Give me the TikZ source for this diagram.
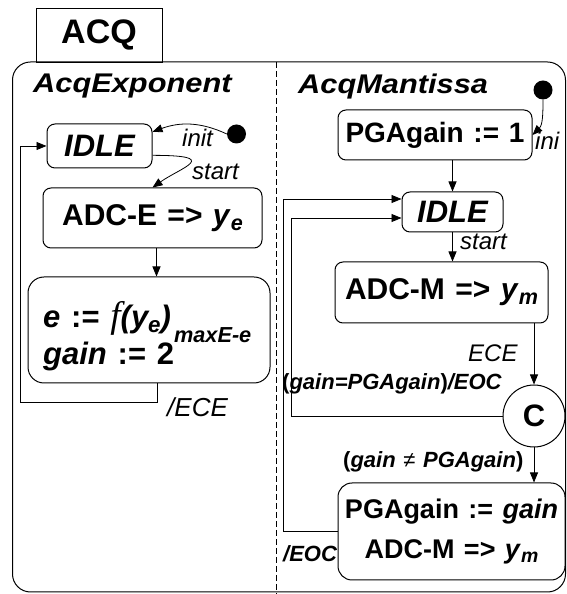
\documentclass[tikz,border=0pt]{standalone}
\usepackage{fontspec}
\usepackage{graphicx}
\setmainfont{Liberation Sans}[WordSpace=1.25]
\newfontfamily\serifit{Liberation Serif}
\usetikzlibrary{arrows.meta,calc}
% small helpers for indices and exponents set in text fonts
\newcommand\lsub[1]{\raisebox{-0.16em}{\scalebox{0.72}{#1}}}
\newcommand\lsup[1]{\raisebox{0.72em}{\scalebox{0.7}{#1}}}
\newcommand\fs[1]{\fontsize{#1}{#1}\selectfont}
\tikzset{
  state/.style={draw, line width=1pt, rounded corners=8pt, inner sep=0pt,
    font=\fs{30}\bfseries},
  lbl/.style={inner sep=0pt, anchor=base west, font=\fs{24}\itshape},
  blbl/.style={inner sep=0pt, anchor=base west, font=\fs{22}\bfseries},
  title/.style={inner sep=0pt, anchor=base west, font=\fs{27}\bfseries\itshape},
  arr/.style={-{Triangle[length=10pt,width=8pt]}, line width=0.8pt},
  dot/.style={circle, fill, minimum size=19pt, inner sep=0pt},
}
\begin{document}
\begin{tikzpicture}[x=1pt,y=1pt]
\useasboundingbox (0,0) rectangle (566,594);

% enclosing state and its name tab
\draw[line width=1pt, rounded corners=18pt] (12.5,532) rectangle (565.5,2);
\node[draw, line width=0.9pt, minimum width=126pt, minimum height=54pt,
  inner sep=0pt, font=\fs{34}\bfseries] (acq) at (99,559) {ACQ};
\draw[line width=0.8pt, dash pattern=on 6pt off 3pt] (276,532) -- (276,0);

% ---------------- exponent region ----------------
\node[title] (texp) at (33,501) {\scalebox{1.14}[1]{AcqExponent}};
\node[state, minimum width=105pt, minimum height=44pt,
  font=\fs{31}\bfseries\itshape] (eidle) at (99.5,448) {IDLE};
\node[dot] (edot) at (236.5,460) {};
\node[state, minimum width=219pt, minimum height=60pt] (adce) at (152.5,376)
  {ADC-E => \textit{y}\lsub{\textit{e}}};
\node[state, rounded corners=16pt, minimum width=242pt, minimum height=106pt]
  (ecalc) at (149,264) {};
\node[anchor=base west, inner sep=0pt, font=\fs{31}\bfseries] (ecalcA)
  at (43,266)
  {\textit{e} := {\serifit\itshape\mdseries\fs{37}f}\textit{(y\lsub{e})}};
\node[anchor=base west, inner sep=0pt, font=\fs{31}\bfseries] (ecalcB)
  at (43,229)
  {\textit{gain} := 2\lsup{\textit{maxE-e}}};
\coordinate (eloop) at (20,192);

\draw[arr] (edot.west) to[out=155, in=20] (eidle.15);
\node[lbl] (linit) at (182,447) {init};
\draw[arr] (eidle.-10) to[out=0, in=35, out distance=70pt, in distance=35pt]
  (adce.north);
\node[lbl] (lstart) at (192,414) {start};
\draw[arr] ([xshift=4pt]adce.south) -- ([xshift=4pt]adce.south |- ecalc.north);
\draw[arr] ([xshift=8pt]ecalc.south) |- (eloop) |- (eidle.west);
\node[lbl, font=\fs{26}\itshape] (lece) at (167,177) {/ECE};

% ---------------- mantissa region ----------------
\node[title] (tman) at (298,500) {\scalebox{1.14}[1]{AcqMantissa}};
\node[dot] (rdot) at (543,504) {};
\node[state, minimum width=194pt, minimum height=50pt, font=\fs{28}\bfseries]
  (pga1) at (435,459) {PGAgain := 1};
\node[state, minimum width=101pt, minimum height=40pt,
  font=\fs{31}\bfseries\itshape] (ridle) at (452.5,382) {IDLE};
\node[state, minimum width=213pt, minimum height=61pt] (adcm) at (441.5,301.5)
  {ADC-M => \textit{y}\lsub{\textit{m}}};
\node[draw, circle, line width=1pt, minimum size=62pt, inner sep=0pt,
  font=\fs{31}\bfseries] (cj) at (534,178) {C};
\node[state, rounded corners=14pt, minimum width=227pt, minimum height=97pt,
  align=center, font=\fs{27}\bfseries] (pgaset) at (451.5,62.5)
  {PGAgain := \textit{gain}\\[13pt]ADC-M => \textit{y}\lsub{\textit{m}}};
\coordinate (inner) at (291,178);
\coordinate (outer) at (283,62.5);

\draw[arr] (rdot.south) to[out=-90, in=45] (pga1.east);
\node[lbl] (lini) at (535,444) {ini};
\draw[arr] (ridle.north |- pga1.south) -- (ridle.north);
\draw[arr] (ridle.south) -- (ridle.south |- adcm.north);
\node[lbl] (lstart2) at (460,344) {start};
\draw[arr] (cj.north |- adcm.south) -- (cj.north);
\node[lbl] (lece2) at (468,232) {ECE};
\draw[arr] (cj.west) -- (inner) |- ([yshift=-6pt]ridle.west);
\node[blbl] (lequal) at (282,204) {(\textit{gain=PGAgain})\textit{/EOC}};
\draw[arr] (cj.south) -- (cj.south |- pgaset.north);
\node[blbl] (lneq) at (343,126)
  {(\textit{gain} {\mdseries ≠} \textit{PGAgain})};
\draw[arr] (pgaset.west) -- (outer) |- ([yshift=13pt]ridle.west);
\node[blbl] (leoc) at (283,32) {\textit{/EOC}};
\end{tikzpicture}
\end{document}
